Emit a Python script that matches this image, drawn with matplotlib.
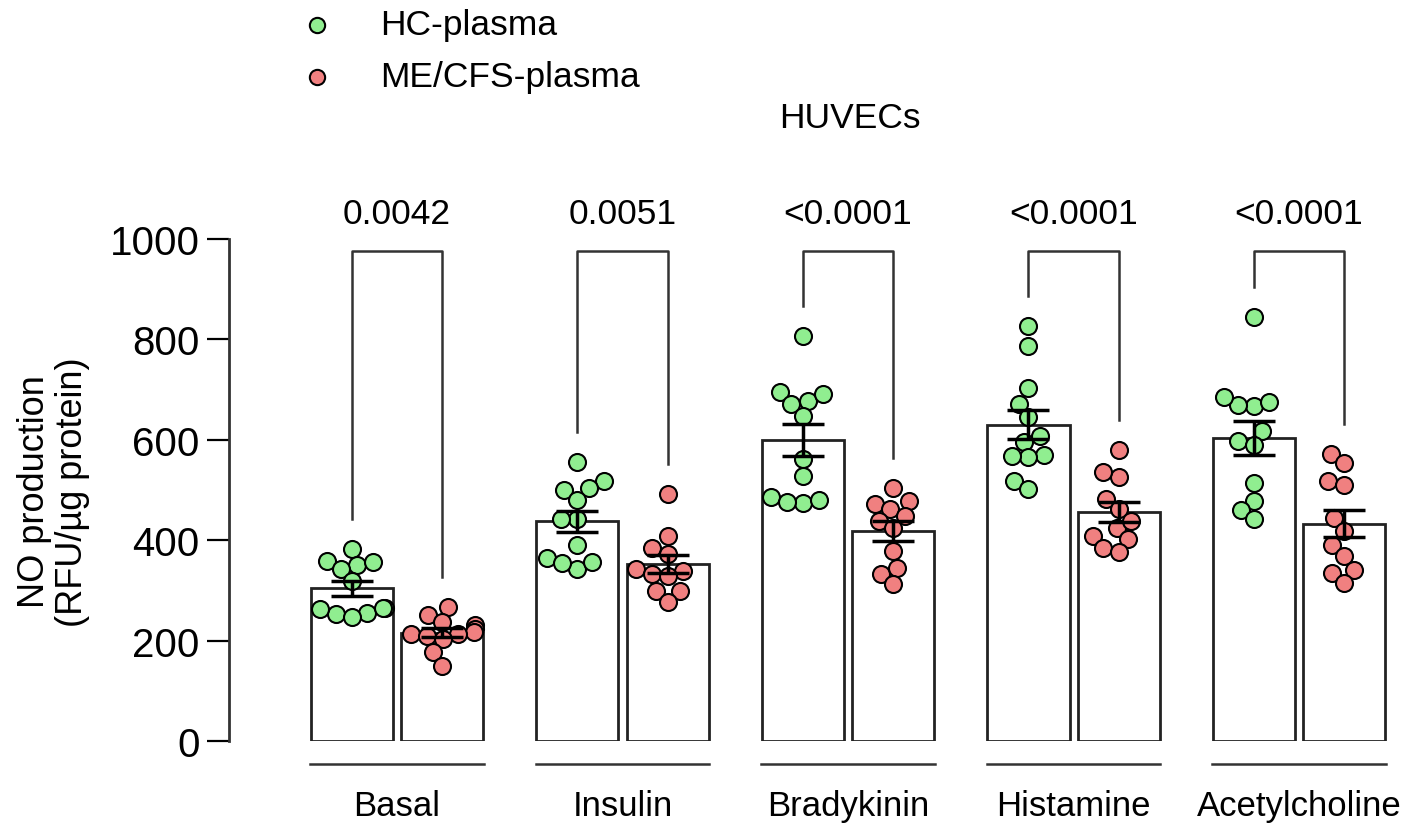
import numpy as np
import matplotlib
matplotlib.use("Agg")
import matplotlib.pyplot as plt
from matplotlib.lines import Line2D

plt.rcParams['font.family'] = ['Liberation Sans', 'DejaVu Sans']

# data
categories = ["Basal", "Insulin", "Bradykinin", "Histamine", "Acetylcholine"]
p_values = ["0.0042", "0.0051", "<0.0001", "<0.0001", "<0.0001"]

hc_basal = [382, 350, 359, 357, 343, 319, 255, 264, 253, 264, 246, 262]
hc_insulin = [556, 517, 499, 503, 481, 442, 442, 390, 343, 364, 356, 355]
hc_brady = [807, 678, 695, 671, 691, 648, 562, 528, 475, 485, 477, 481]
hc_hist = [826, 787, 704, 671, 645, 607, 596, 570, 565, 568, 517, 502]
hc_ach = [844, 668, 669, 676, 686, 618, 598, 590, 514, 479, 461, 442]

me_basal = [266, 250, 236, 231, 224, 217, 213, 213, 210, 203, 177, 150]
me_insulin = [492, 409, 384, 373, 343, 333, 339, 329, 299, 299, 277]
me_brady = [503, 472, 463, 479, 448, 439, 425, 379, 333, 344, 313]
me_hist = [580, 525, 535, 482, 462, 425, 439, 409, 402, 384, 376]
me_ach = [572, 554, 517, 510, 444, 419, 390, 368, 341, 335, 315]

hc_groups = [hc_basal, hc_insulin, hc_brady, hc_hist, hc_ach]
me_groups = [me_basal, me_insulin, me_brady, me_hist, me_ach]

GREEN = "#90EE90"
RED = "#F08080"
BAR_W = 0.364
OFF = 0.2
X_PX = 225.5          # pixels per x unit
Y_PX = 0.502          # pixels per y unit
FS = 25


def swarm(values, diam=16.0, limit=33.0):
    """simple beeswarm, offsets returned in x data units"""
    vals = np.asarray(values, float)
    placed = []
    offs = np.zeros(len(vals))
    steps = np.arange(0.5, limit + 0.1, 0.5)
    cands = np.concatenate([[0], np.ravel(np.column_stack([-steps, steps]))])
    for i in np.argsort(vals):
        y = vals[i] * Y_PX
        best = cands[-1]
        for c in cands:
            if all((c - px) ** 2 + (y - py) ** 2 >= diam ** 2 for px, py in placed):
                best = c
                break
        placed.append((best, y))
        offs[i] = best / X_PX
    return offs


fig = plt.figure(figsize=(14.06, 8.28), dpi=100)
ax = fig.add_axes([0.1629, 0.1039, 0.8329, 0.6063])
ax.set_xlim(-0.745, 4.448)
ax.set_ylim(0, 1000)

for i, (hc, me) in enumerate(zip(hc_groups, me_groups)):
    for vals, dx, col in ((hc, -OFF, GREEN), (me, OFF, RED)):
        m = np.mean(vals)
        sem = np.std(vals, ddof=1) / np.sqrt(len(vals))
        ax.bar(i + dx, m, width=BAR_W, facecolor="white", edgecolor="#222222",
               linewidth=2, zorder=1)
        ax.scatter(i + dx + swarm(vals), vals, s=150, c=col, edgecolors="black",
                   linewidths=1.5, zorder=3, clip_on=False)
        ax.errorbar(i + dx, m, yerr=sem, fmt="none", ecolor="black",
                    elinewidth=2.5, capsize=15, capthick=2.5, zorder=4)

    # significance bracket
    top = 976
    ax.plot([i - OFF, i - OFF, i + OFF, i + OFF],
            [max(hc) + 60, top, top, max(me) + 60],
            color="#333333", lw=1.8, clip_on=False, zorder=2)
    ax.text(i, 1050, p_values[i], ha="center", va="center", fontsize=FS + 0.5,
            clip_on=False)

    # group underline + label
    ax.plot([i - 0.385, i + 0.385], [-46, -46], color="#333333", lw=1.8,
            clip_on=False)
    ax.text(i, -129, categories[i], ha="center", va="center", fontsize=FS,
            clip_on=False)

ax.set_yticks([0, 200, 400, 600, 800, 1000])
ax.set_xticks([])
ax.tick_params(axis="y", labelsize=29, length=16, width=1.6, pad=5)
for s in ("top", "right", "bottom"):
    ax.spines[s].set_visible(False)
ax.spines["left"].set_linewidth(2)
ax.spines["left"].set_color("#333333")

fig.text(0.038, 1 - 492 / 828, "NO production\n(RFU/µg protein)", rotation=90,
         ha="center", va="center", fontsize=26, linespacing=1.1)

# legend drawn by hand
for ypx, col, lab in ((26, GREEN, "HC-plasma"), (78, RED, "ME/CFS-plasma")):
    yf = 1 - ypx / 828
    fig.add_artist(Line2D([317 / 1406], [yf], marker="o", markersize=11,
                          markerfacecolor=col, markeredgecolor="black",
                          markeredgewidth=1.5, linestyle="none",
                          transform=fig.transFigure))
    fig.text(380 / 1406, yf, lab, ha="left", va="center", fontsize=FS + 0.5)

fig.text(850 / 1406, 1 - 118 / 828, "HUVECs", ha="center", va="center",
         fontsize=FS + 0.5)

fig.savefig("out.png", dpi=100)
